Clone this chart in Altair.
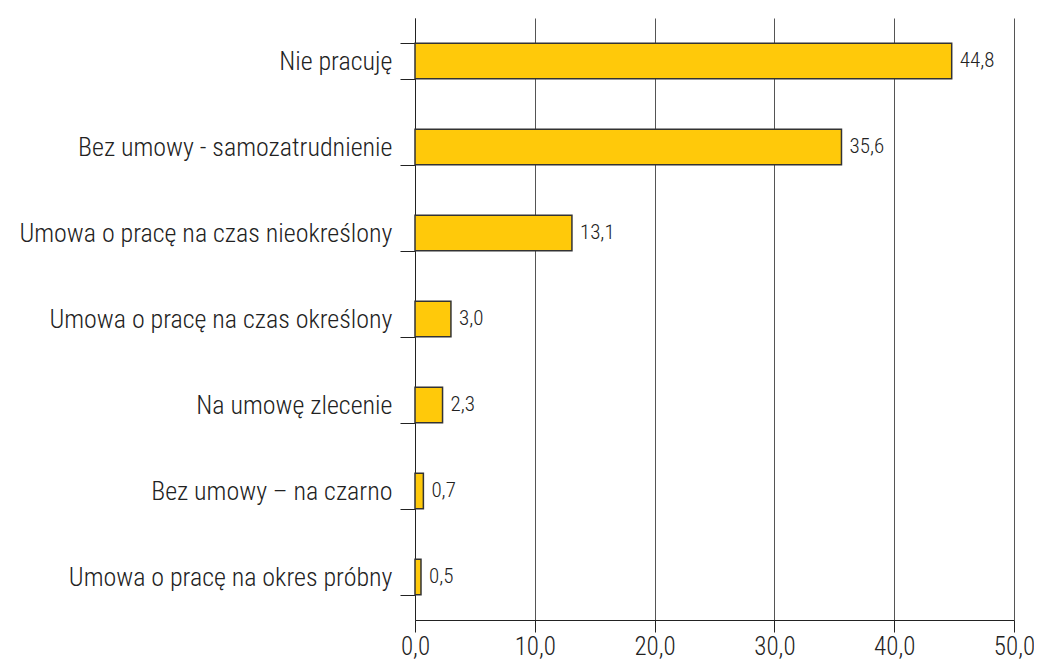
import altair as alt
import pandas as pd

categories = [
    "Nie pracuję",
    "Bez umowy - samozatrudnienie",
    "Umowa o pracę na czas nieokreślony",
    "Umowa o pracę na czas określony",
    "Na umowę zlecenie",
    "Bez umowy – na czarno",
    "Umowa o pracę na okres próbny",
]
values = [44.8, 35.6, 13.1, 3.0, 2.3, 0.7, 0.5]

df = pd.DataFrame({"cat": categories, "val": values})

FONT = "Roboto Condensed, DejaVu Sans Condensed, sans-serif"

y = alt.Y("cat:N", sort=categories, title=None,
          scale=alt.Scale(paddingInner=0.59, paddingOuter=0.295),
          axis=alt.Axis(tickBand="extent", domainColor="#222", tickColor="#222",
                        tickSize=15, labelPadding=8, labelFontSize=26, labelFontWeight=300,
                        labelColor="#222", labelFont=FONT, grid=False, labelLimit=420))
x = alt.X("val:Q", title=None,
          scale=alt.Scale(domain=[0, 50], nice=False),
          axis=alt.Axis(values=[0, 10, 20, 30, 40, 50], grid=True, gridColor="#555",
                        gridWidth=1, domainColor="#222", tickColor="#222", tickSize=12,
                        labelPadding=2, labelFontSize=25, labelFontWeight=300,
                        labelColor="#222", labelFont=FONT,
                        labelFlush=False,
                        labelExpr="replace(format(datum.value, '.1f'), '.', ',')"))

bars = alt.Chart(df).mark_bar(color="#FFC90A", stroke="#333", strokeWidth=1.5).encode(y=y, x=x)
text = alt.Chart(df).transform_calculate(
    lab="replace(format(datum.val, '.1f'), '.', ',')"
).mark_text(align="left", baseline="middle", dx=8, fontSize=21, fontWeight=300,
            font=FONT, color="#222").encode(
    y=alt.Y("cat:N", sort=categories), x="val:Q", text="lab:N")

chart = (bars + text).properties(
    width=599, height=602,
    autosize=alt.AutoSizeParams(type="none"),
    padding={"left": 407, "top": 10, "right": 20, "bottom": 40},
).configure_view(stroke=None)

chart.save("out.html", embed_options={"renderer": "svg", "actions": False})
